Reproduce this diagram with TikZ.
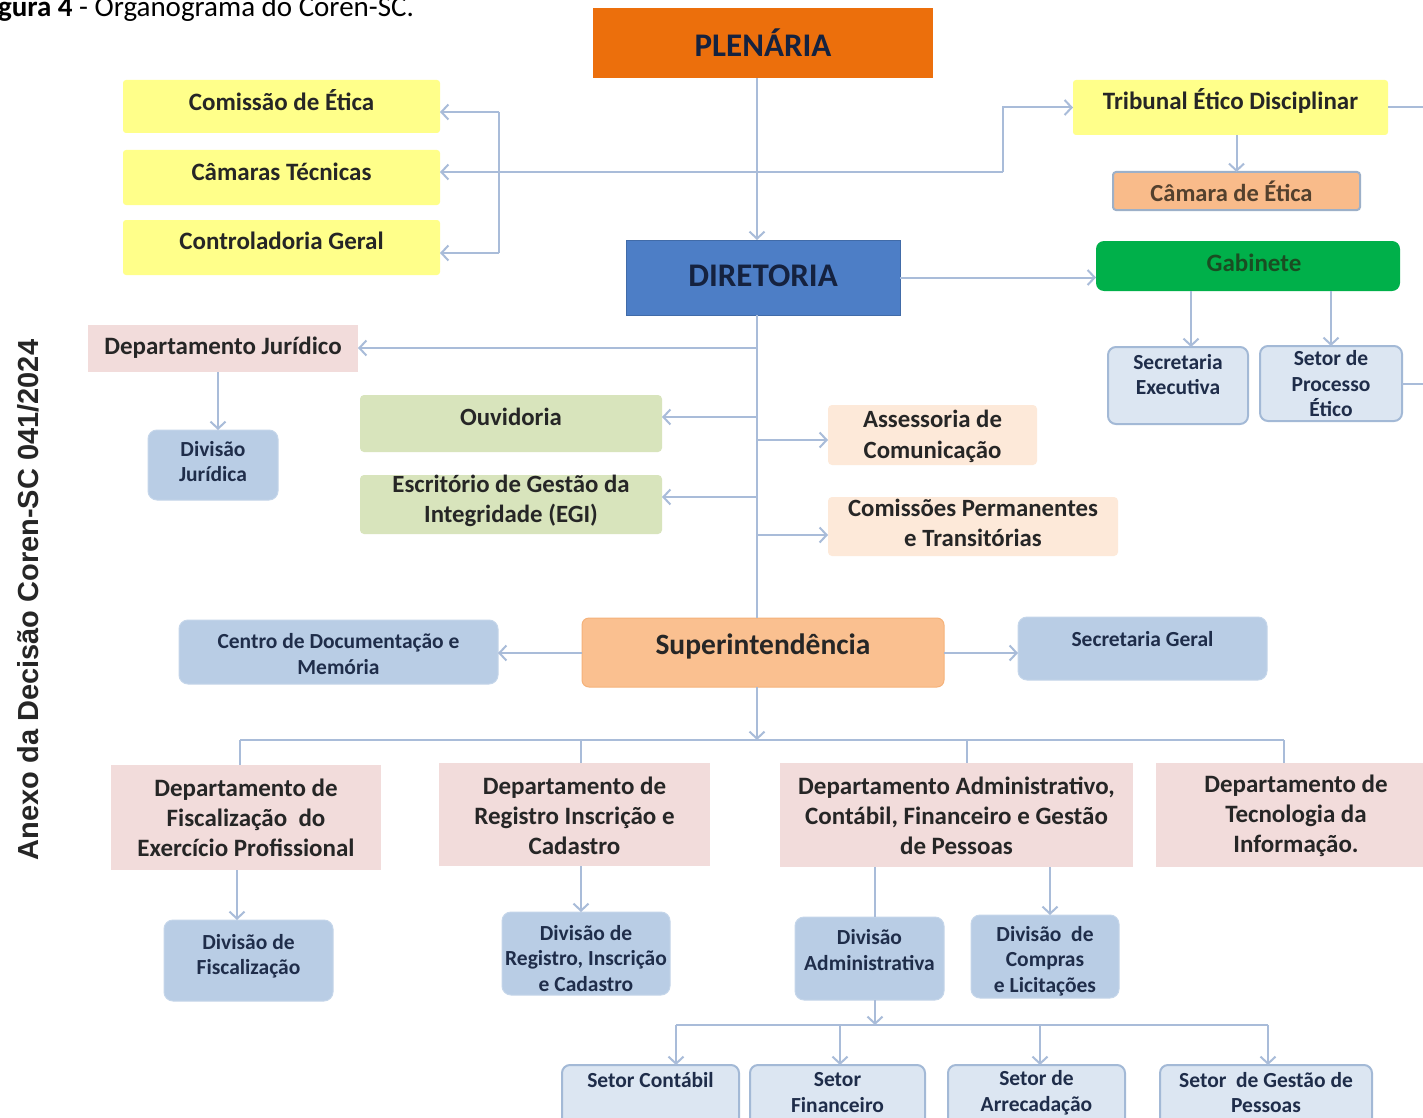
\documentclass[tikz,border=0pt]{standalone}
\usepackage{fontspec}
\setmainfont{Carlito}
\newfontfamily\arialf{Liberation Sans}
\usetikzlibrary{arrows.meta,calc}
\definecolor{cOrg}{HTML}{EC6F0C}
\definecolor{cDir}{HTML}{4D7EC6}
\definecolor{cYel}{HTML}{FFFF8A}
\definecolor{cCam}{HTML}{F9BB8A}
\definecolor{cCamB}{HTML}{9DB0C8}
\definecolor{cGab}{HTML}{00B04A}
\definecolor{cLb}{HTML}{DCE6F2}
\definecolor{cLbB}{HTML}{A3B9D6}
\definecolor{cBg}{HTML}{B9CDE5}
\definecolor{cBgB}{HTML}{C5D6EA}
\definecolor{cPink}{HTML}{F2DCDB}
\definecolor{cGrn}{HTML}{D8E4BC}
\definecolor{cPeach}{HTML}{FDE9D9}
\definecolor{cSup}{HTML}{FAC090}
\definecolor{cSupB}{HTML}{F5B27A}
\definecolor{cLine}{HTML}{A9BCD9}
\definecolor{cTxt}{HTML}{262626}
\definecolor{cNavy}{HTML}{15223F}
\definecolor{cGabT}{HTML}{1A4D22}
\definecolor{cBlT}{HTML}{1F2D4A}
\newcommand\ob[9]{%
  \node[#1, minimum width={(#5)-(#3)}, minimum height={(#6)-(#4)}] (#2) at ({((#3)+(#5))/2},{((#4)+(#6))/2}) {};
  \node[#1t] (#2t) at ({((#3)+(#5))/2+(#9)},#7) {#8};}
\tikzset{
  base/.style={inner sep=0pt, outer sep=0pt, rectangle},
  org/.style={base, fill=cOrg},
  orgt/.style={font=\fontsize{33}{36}\selectfont\bfseries, text=cNavy},
  dir/.style={base, fill=cDir, draw=cDir!85!black, line width=0.8pt},
  dirt/.style={font=\fontsize{33}{36}\selectfont\bfseries, text=cNavy},
  yel/.style={base, fill=cYel, rounded corners=3pt},
  yelt/.style={font=\fontsize{25}{28}\selectfont\bfseries, text=cTxt, align=center},
  cam/.style={base, fill=cCam, draw=cCamB, line width=2pt, rounded corners=3pt},
  camt/.style={font=\fontsize{24.5}{28}\selectfont\bfseries, text=cTxt!70!brown, align=center},
  gab/.style={base, fill=cGab, rounded corners=8pt},
  gabt/.style={font=\fontsize{25}{28}\selectfont\bfseries, text=cGabT},
  lb/.style={base, fill=cLb, draw=cLbB, line width=2pt, rounded corners=8pt},
  lbt/.style={font=\fontsize{21.5}{25.5}\selectfont\bfseries, text=cBlT, align=center},
  bg/.style={base, fill=cBg, draw=cBgB, line width=1pt, rounded corners=9pt},
  bgt/.style={font=\fontsize{21.5}{25.5}\selectfont\bfseries, text=cBlT, align=center},
  pink/.style={base, fill=cPink},
  pinkt/.style={font=\fontsize{25}{30}\selectfont\bfseries, text=cTxt, align=center},
  grn/.style={base, fill=cGrn, rounded corners=4pt},
  grnt/.style={font=\fontsize{24.8}{30}\selectfont\bfseries, text=cTxt, align=center},
  peach/.style={base, fill=cPeach, rounded corners=4pt},
  peacht/.style={font=\fontsize{24.8}{30.5}\selectfont\bfseries, text=cTxt, align=center},
  sup/.style={base, fill=cSup, draw=cSupB, line width=1pt, rounded corners=7pt},
  supt/.style={font=\fontsize{29.5}{32}\selectfont\bfseries, text=cTxt},
  ln/.style={draw=cLine, line width=2pt},
  arr/.style={ln, -{Straight Barb[length=7pt,width=15pt,line width=2pt]}},
}
\begin{document}
\begin{tikzpicture}[x=1pt,y=-1pt]
\useasboundingbox[fill=white] (0,0) rectangle (1423,1118);
% caption and side text
\node[anchor=base west, inner sep=0pt, font=\fontsize{29}{32}\selectfont, text=black] (cap) at (-22.6,17) {\textbf{Figura 4} - Organograma do Coren-SC.};
\node[rotate=90, inner sep=0pt, font=\arialf\bfseries\fontsize{29}{32}\selectfont, text=cTxt] (anexo) at (28,600) {Anexo da Decisão Coren-SC 041/2024};
% boxes
\ob{org}{pl}{593}{8}{933}{78}{43}{PLENÁRIA}{0}
\ob{yel}{ce}{123}{80}{440}{133}{100}{Comissão de Ética}{0}
\ob{yel}{ct}{123}{150}{440}{205}{172}{Câmaras Técnicas}{0}
\ob{yel}{cg}{123}{220}{440}{275}{241}{Controladoria Geral}{0}
\ob{yel}{td}{1073}{80}{1388}{135}{101}{Tribunal Ético Disciplinar}{0}
\ob{cam}{cam}{1113}{172}{1360}{210}{191}{Câmara de Ética}{-5}
\ob{dir}{di}{626}{240}{900}{315}{276}{DIRETORIA}{0}
\ob{gab}{gb}{1096}{241}{1400}{291}{263}{Gabinete}{6}
\ob{lb}{se}{1108}{347}{1248}{424}{374.5}{Secretaria\\Executiva}{0}
\ob{lb}{sp}{1260}{346}{1402}{421}{384}{Setor de\\Processo\\Ético}{0}
\ob{pink}{dj}{88}{325}{358}{372}{348}{Departamento Jurídico}{0}
\ob{bg}{dvj}{148}{430}{278}{500}{461.5}{Divisão\\Jurídica}{0}
\ob{grn}{ou}{360}{395}{662}{452}{417}{Ouvidoria}{0}
\ob{grn}{egi}{360}{475}{662}{534}{501}{Escritório de Gestão da\\Integridade (EGI)}{0}
\ob{peach}{ac}{828}{405}{1037}{465}{436.5}{Assessoria de\\Comunicação}{0}
\ob{peach}{cp}{828}{497}{1118}{556}{523}{Comissões Permanentes\\e Transitórias}{0}
\ob{sup}{su}{582}{618}{944}{687}{646}{Superintendência}{0}
\ob{bg}{cd}{179}{620}{498}{684}{654}{Centro de Documentação e\\Memória}{0}
\ob{bg}{sg}{1018}{617}{1267}{680}{639}{Secretaria Geral}{0}
\ob{pink}{df}{111}{765}{381}{870}{817.5}{Departamento de\\Fiscalização\ \ do\\Exercício Profissional}{0}
\ob{pink}{dr}{439}{763}{710}{866}{815.5}{Departamento de\\Registro Inscrição e\\Cadastro}{0}
\ob{pink}{da}{780}{763}{1133}{867}{815.5}{Departamento Administrativo,\\Contábil, Financeiro e Gestão\\de Pessoas}{0}
\ob{pink}{dt}{1156}{763}{1436}{867}{815.5}{Departamento de\\Tecnologia da\\Informação.}{0}
\ob{bg}{dvf}{164}{920}{333}{1001}{956.5}{Divisão de\\Fiscalização}{0}
\ob{bg}{dvr}{502}{912}{670}{995}{958.5}{Divisão de\\Registro, Inscrição\\e Cadastro}{0}
\ob{bg}{dva}{795}{917}{944}{1000}{950}{Divisão\\Administrativa}{0}
\ob{bg}{dvc}{971}{915}{1119}{998}{961}{Divisão\ \ de\\Compras\\e Licitações}{0}
\ob{lb}{sc}{562}{1065}{739}{1135}{1080}{Setor Contábil}{0}
\ob{lb}{sf}{750}{1065}{925}{1135}{1092.5}{Setor\\Financeiro}{0}
\ob{lb}{sa}{948}{1065}{1125}{1135}{1092.5}{Setor de\\Arrecadação}{0}
\ob{lb}{sgp}{1160}{1065}{1372}{1135}{1092.5}{Setor\ \ de Gestão de\\Pessoas}{0}
% helper coordinates
\coordinate (spx) at (757,0);
\coordinate (edge) at (1423,0);
\coordinate (jl) at (499,172);
\coordinate (jr) at (1003,172);
\coordinate (b1) at (499,112);
\coordinate (b2) at (499,253);
\coordinate (g1) at (1191,0);
\coordinate (j1) at (218,0);
\coordinate (s1) at (757,417);
\coordinate (s2) at (757,497);
\coordinate (s3) at (757,440);
\coordinate (s4) at (757,535);
\coordinate (s5) at (757,348);
\coordinate (bus) at (757,740);
\coordinate (bl) at (240,740);
\coordinate (bb) at (581,740);
\coordinate (bc) at (967,740);
\coordinate (br) at (1284,740);
\coordinate (xf) at (237,0);
\coordinate (xr) at (581,0);
\coordinate (xa) at (875,0);
\coordinate (xc) at (1050,0);
\coordinate (bus2) at (875,1025);
\coordinate (c1) at (676,1025);
\coordinate (c2) at (840,1025);
\coordinate (c3) at (1040,1025);
\coordinate (c4) at (1268,1025);
% plenaria connections
\draw[arr] (pl.south -| spx) -- (di.north -| spx);
\draw[ln] (b1) -- (b2);
\draw[arr] (b1) -- (b1 -| ce.east);
\draw[arr] (b2) -- (b2 -| cg.east);
\draw[arr] (jr) -- (jr -| ct.east);
\draw[arr] (jr) |- (td.west);
\draw[arr] (td.south -| cam.north) -- (cam.north);
\draw[ln] (td.east) -- (td.east -| edge);
\draw[ln] (sp.east) -- (sp.east -| edge);
% diretoria
\draw[arr] (di.east) -- (di.east -| gb.west);
\draw[arr] (gb.south -| g1) -- (se.north -| g1);
\draw[arr] (gb.south -| sp.north) -- (sp.north);
\draw[ln] (di.south -| spx) -- (su.north -| spx);
\draw[arr] (s5) -- (s5 -| dj.east);
\draw[arr] (dj.south -| j1) -- (dvj.north -| j1);
\draw[arr] (s1) -- (s1 -| ou.east);
\draw[arr] (s2) -- (s2 -| egi.east);
\draw[arr] (s3) -- (s3 -| ac.west);
\draw[arr] (s4) -- (s4 -| cp.west);
% superintendencia
\coordinate (s6) at (757,653);
\draw[arr] (s6 -| su.west) -- (s6 -| cd.east);
\draw[arr] (s6 -| su.east) -- (s6 -| sg.west);
\draw[arr] (su.south -| spx) -- (bus);
\draw[ln] (bl) -- (br);
\draw[ln] (bl) -- (bl |- df.north);
\draw[ln] (bb) -- (bb |- dr.north);
\draw[ln] (bc) -- (bc |- da.north);
\draw[ln] (br) -- (br |- dt.north);
\draw[arr] (df.south -| xf) -- (dvf.north -| xf);
\draw[arr] (dr.south -| xr) -- (dvr.north -| xr);
\draw[ln] (da.south -| xa) -- (dva.north -| xa);
\draw[arr] (da.south -| xc) -- (dvc.north -| xc);
\draw[arr] (dva.south -| xa) -- (bus2);
\draw[ln] (c1) -- (c4);
\draw[arr] (c1) -- (c1 |- sc.north);
\draw[arr] (c2) -- (c2 |- sf.north);
\draw[arr] (c3) -- (c3 |- sa.north);
\draw[arr] (c4) -- (c4 |- sgp.north);
\end{tikzpicture}
\end{document}
